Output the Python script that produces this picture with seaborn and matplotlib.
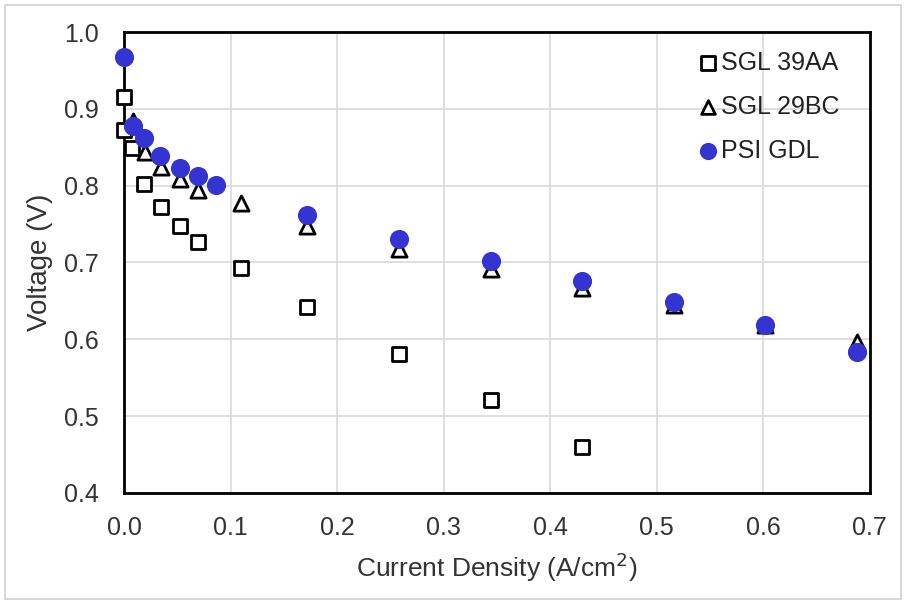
import numpy as np
import pandas as pd
import matplotlib
matplotlib.use('Agg')
import matplotlib.pyplot as plt
import seaborn as sns
from matplotlib.patches import Rectangle

# 데이터
sgl39_j = [0.0, 0.0, 0.007, 0.019, 0.035, 0.052, 0.069, 0.110, 0.172, 0.258, 0.344, 0.430]
sgl39_v = [0.915, 0.872, 0.849, 0.802, 0.772, 0.748, 0.727, 0.693, 0.642, 0.581, 0.521, 0.460]

sgl29_j = [0.008, 0.020, 0.035, 0.052, 0.069, 0.110, 0.172, 0.258, 0.344, 0.430, 0.516, 0.602, 0.688]
sgl29_v = [0.884, 0.844, 0.824, 0.808, 0.794, 0.777, 0.748, 0.718, 0.692, 0.667, 0.644, 0.619, 0.597]

psi_j = [0.0, 0.008, 0.019, 0.034, 0.052, 0.069, 0.086, 0.172, 0.258, 0.344, 0.430, 0.516, 0.602, 0.688]
psi_v = [0.967, 0.878, 0.862, 0.839, 0.823, 0.813, 0.801, 0.762, 0.730, 0.702, 0.676, 0.649, 0.618, 0.584]

x_ticks = [0.0, 0.1, 0.2, 0.3, 0.4, 0.5, 0.6, 0.7]
y_ticks = [0.4, 0.5, 0.6, 0.7, 0.8, 0.9, 1.0]

sns.set_style('white')
plt.rcParams['font.family'] = ['Liberation Sans', 'DejaVu Sans']

fig = plt.figure(figsize=(9.06, 6.04), dpi=100)
ax = fig.add_axes([0.137, 0.184, 0.823, 0.763])

# 바깥 회색 테두리
fig.patches.append(Rectangle((0.006, 0.008), 0.988, 0.984, transform=fig.transFigure,
                             fill=False, edgecolor='#d0d0d0', linewidth=1.2))

blue = '#3434d2'
kw = dict(ax=ax, clip_on=False)
sns.scatterplot(x=sgl39_j, y=sgl39_v, marker='s', s=110, facecolor='white',
                edgecolor='black', linewidth=2, label='SGL 39AA', zorder=3, **kw)
sns.scatterplot(x=sgl29_j, y=sgl29_v, marker='^', s=120, facecolor='white',
                edgecolor='black', linewidth=2, label='SGL 29BC', zorder=4, **kw)
sns.scatterplot(x=psi_j, y=psi_v, marker='o', s=190, color=blue,
                edgecolor=blue, linewidth=0, label='PSI GDL', zorder=5, **kw)

ax.set_xlim(0, 0.7)
ax.set_ylim(0.4, 1.0)
ax.set_xticks(x_ticks)
ax.set_yticks(y_ticks)
ax.set_xticklabels([f'{v:.1f}' for v in x_ticks])
ax.set_yticklabels([f'{v:.1f}' for v in y_ticks])
ax.tick_params(length=0, labelsize=18, colors='#333333')
ax.tick_params(axis='x', pad=17)
ax.tick_params(axis='y', pad=18)
ax.grid(True, color='#d9d9d9', linewidth=1.2)
ax.set_axisbelow(True)
for sp in ax.spines.values():
    sp.set_color('black')
    sp.set_linewidth(2)

ax.set_xlabel('Current Density (A/cm$^2$)', fontsize=19, color='#333333', labelpad=7)
ax.set_ylabel('Voltage (V)', fontsize=20, color='#333333', labelpad=8)

leg = ax.legend(loc='upper right', bbox_to_anchor=(0.985, 1.0), frameon=False, fontsize=18,
                handletextpad=-0.45, labelspacing=0.8, markerscale=0.9, borderaxespad=0.35)
for t in leg.get_texts():
    t.set_color('#222222')

fig.savefig('out.png', dpi=100)
